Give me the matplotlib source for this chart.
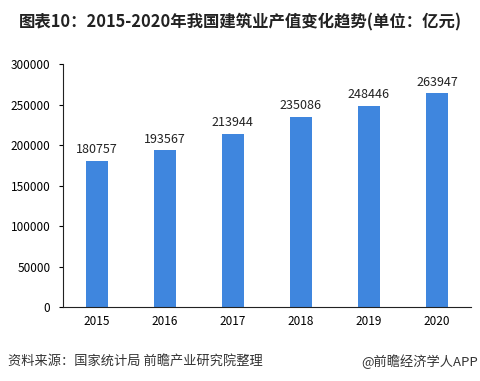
import matplotlib
matplotlib.use("Agg")
from matplotlib import pyplot as plt

plt.rcParams['font.family'] = ['Noto Sans CJK SC', 'DejaVu Sans']

years = ['2015', '2016', '2017', '2018', '2019', '2020']
values = [180757, 193567, 213944, 235086, 248446, 263947]
yticks = [0, 50000, 100000, 150000, 200000, 250000, 300000]

fig = plt.figure(figsize=(4.8, 3.81), dpi=100)
ax = fig.add_axes([0.131, 0.194, 0.85, 0.638])

bars = ax.bar(range(len(years)), values, width=0.32, color='#3F86DE')
for i, v in enumerate(values):
    ax.text(i, v + 5500, str(v), ha='center', va='bottom', fontsize=9, color='#222222')

ax.set_xlim(-0.5, len(years) - 0.5)
ax.set_ylim(0, 300000)
ax.set_xticks(range(len(years)))
ax.set_xticklabels(years, fontsize=8.5)
ax.set_yticks(yticks)
ax.set_yticklabels([str(t) for t in yticks], fontsize=8.5)
ax.tick_params(axis='x', length=0, pad=6)
ax.tick_params(axis='y', length=3, width=0.8, pad=6)
ax.spines['top'].set_visible(False)
ax.spines['right'].set_visible(False)
ax.spines['left'].set_color('#222222')
ax.spines['bottom'].set_color('#222222')

fig.text(0.5, 0.942, '图表10：2015-2020年我国建筑业产值变化趋势(单位：亿元)',
         ha='center', va='center', fontsize=11.8, fontweight='bold', color='#222222')
fig.text(0.017, 0.052, '资料来源：国家统计局 前瞻产业研究院整理', ha='left', va='center',
         fontsize=9.5, color='#333333')
fig.text(0.995, 0.052, '@前瞻经济学人APP', ha='right', va='center',
         fontsize=9.5, color='#333333')

fig.savefig('out.png', dpi=100)
